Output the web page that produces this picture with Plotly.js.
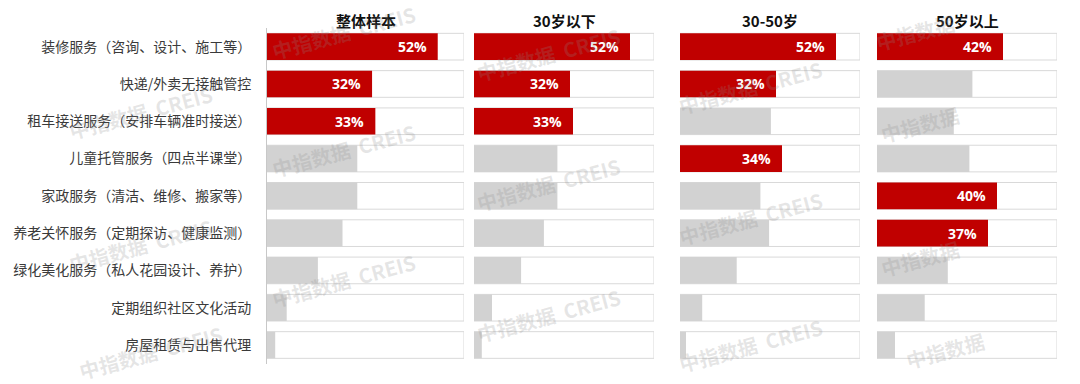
<!DOCTYPE html>
<html><head><meta charset="utf-8">
<script src="https://cdn.plot.ly/plotly-3.0.1.min.js"></script>
<style>html,body{margin:0;padding:0;background:#fff}#chart{width:1080px;height:384px}</style>
</head><body><div id="chart"></div>
<script>
const categories = [
  '装修服务（咨询、设计、施工等）',
  '快递/外卖无接触管控',
  '租车接送服务（安排车辆准时接送）',
  '儿童托管服务（四点半课堂）',
  '家政服务（清洁、维修、搬家等）',
  '养老关怀服务（定期探访、健康监测）',
  '绿化美化服务（私人花园设计、养护）',
  '定期组织社区文化活动',
  '房屋租赁与出售代理'
];
const panelTitles = ['整体样本', '30岁以下', '30-50岁', '50岁以上'];
const overall   = [52, 32, 33, 27.5, 27.5, 23, 15.5, 6, 2.5];
const under30   = [52, 32, 33, 27.8, 27.8, 23.3, 15.7, 6, 2.6];
const age30to50 = [52, 32, 30.3, 34, 26.8, 29.7, 18.9, 7.4, 2];
const over50    = [42, 31.8, 25.6, 30.8, 40, 37, 23.6, 15.9, 6];
const axisMax = 60;
const topN = 3;

const panels = [overall, under30, age30to50, over50];
const domains = [[267/1080, 464/1080], [474/1080, 654/1080], [680/1080, 860/1080], [877/1080, 1057/1080]];
const RED = '#c00000', GRAY = '#d2d2d2', BOX = '#d9d9d9';
const BW = 0.715;

const traces = [];
const annotations = [];
const layout = {
  width: 1080, height: 384,
  margin: {l: 0, r: 0, t: 0, b: 0, autoexpand: false},
  paper_bgcolor: '#fff', plot_bgcolor: 'rgba(0,0,0,0)',
  barmode: 'overlay', showlegend: false,
  font: {family: '"Noto Sans CJK SC", "Noto Sans", sans-serif', color: '#333'},
  yaxis: {
    type: 'category', range: [8.5, -0.5], domain: [0.053, 0.927],
    anchor: 'x', showline: true, linecolor: '#c8c8c8', linewidth: 1,
    ticks: 'outside', ticklen: 12, tickcolor: 'rgba(0,0,0,0)',
    showgrid: false, zeroline: false, automargin: false, fixedrange: true,
    tickfont: {size: 14, color: '#3a3a3a', family: '"Noto Sans CJK SC", sans-serif'}
  }
};

panels.forEach((vals, i) => {
  const sfx = i === 0 ? '' : String(i + 1);
  const xa = 'x' + sfx;
  const sorted = vals.slice().sort((a, b) => b - a);
  const thr = sorted[topN - 1];
  const isTop = vals.map(v => v >= thr);
  layout['xaxis' + sfx] = {
    domain: domains[i], range: [0, axisMax], anchor: 'y',
    visible: false, fixedrange: true
  };
  traces.push({
    type: 'bar', orientation: 'h', xaxis: xa, yaxis: 'y',
    y: categories, x: categories.map(() => axisMax), width: BW,
    marker: {color: '#ffffff', line: {color: BOX, width: 1}},
    hoverinfo: 'skip'
  });
  traces.push({
    type: 'bar', orientation: 'h', xaxis: xa, yaxis: 'y',
    y: categories, x: vals, width: BW,
    marker: {color: isTop.map(t => t ? RED : GRAY), line: {width: 0}},
    hovertemplate: '%{y}: %{x}%<extra></extra>'
  });
  vals.forEach((v, k) => {
    if (!isTop[k]) return;
    annotations.push({
      xref: xa, yref: 'y', x: v, y: categories[k],
      text: Math.round(v) + '%', showarrow: false,
      xanchor: 'right', yanchor: 'middle', xshift: -9,
      font: {family: '"Open Sans", "Noto Sans", sans-serif', size: 14, color: '#ffffff', weight: 'bold'}
    });
  });
  annotations.push({
    xref: xa + ' domain', yref: 'paper', x: 0.5, y: 1 - 20 / 384,
    text: '<b>' + panelTitles[i] + '</b>', showarrow: false,
    xanchor: 'center', yanchor: 'middle',
    font: {size: 15, color: '#111', family: '"Noto Sans CJK SC", sans-serif'}
  });
});

// watermark (faint, rotated)
const wm = [
  [140, 112, '中指数据  CREIS'], [140, 245, '中指数据  CREIS'], [150, 352, '中指数据  CREIS'],
  [343, 32, '中指数据  CREIS'], [343, 150, '中指数据  CREIS'], [343, 280, '中指数据  CREIS'],
  [548, 55, '中指数据  CREIS'], [548, 185, '中指数据  CREIS'], [548, 315, '中指数据  CREIS'],
  [750, 88, '中指数据  CREIS'], [750, 218, '中指数据  CREIS'], [750, 345, '中指数据  CREIS'],
  [915, 32, '中指数据'], [920, 125, '中指数据'], [920, 258, '中指数据'], [945, 350, '中指数据']
];
wm.forEach(([px, py, t]) => {
  annotations.push({
    xref: 'paper', yref: 'paper', x: px / 1080, y: 1 - py / 384,
    text: t, showarrow: false, textangle: -15,
    xanchor: 'center', yanchor: 'middle',
    font: {size: 20, color: 'rgba(140,140,140,0.22)', family: '"Noto Sans CJK SC", sans-serif', weight: 'bold'}
  });
});

layout.annotations = annotations;
Plotly.newPlot('chart', traces, layout, {displayModeBar: false, staticPlot: true});
</script>
</body></html>
